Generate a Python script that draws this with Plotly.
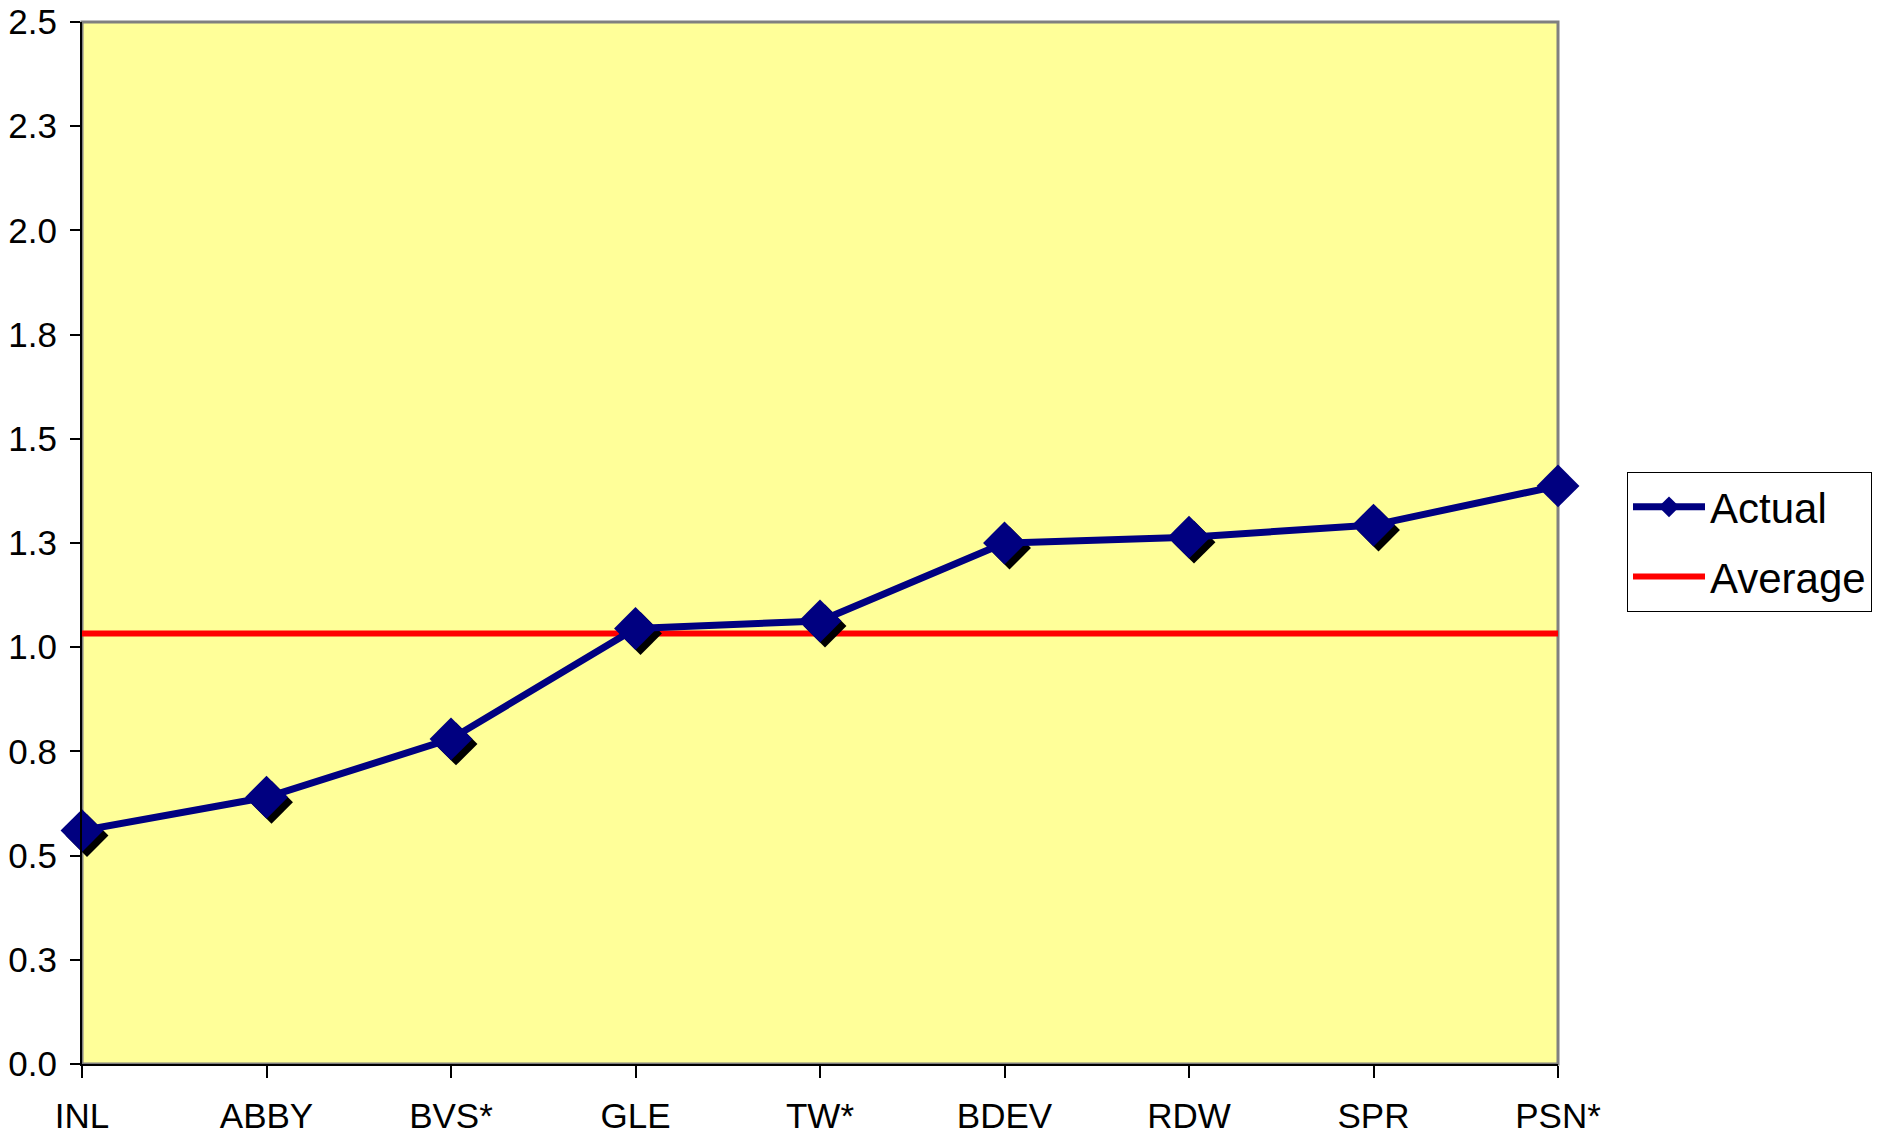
import plotly.graph_objects as go

categories = ["INL", "ABBY", "BVS*", "GLE", "TW*", "BDEV", "RDW", "SPR", "PSN*"]
actual = [0.56, 0.64, 0.78, 1.045, 1.063, 1.25, 1.264, 1.293, 1.387]
average = [1.033] * len(categories)
ytick_vals = [0.0, 0.25, 0.5, 0.75, 1.0, 1.25, 1.5, 1.75, 2.0, 2.25, 2.5]
ytick_text = ["0.0", "0.3", "0.5", "0.8", "1.0", "1.3", "1.5", "1.8", "2.0", "2.3", "2.5"]

W, H = 1883, 1138
PAGE = 8  # body margin of the page
plot_w, plot_h = 1476, 1042
ML, MT = 82 - PAGE, 22 - PAGE
MR = W - ML - plot_w
MB = H - MT - plot_h
xr = [0, len(categories) - 1]
yr = [0, 2.5]

xs = list(range(len(categories)))
# shadow offset of ~5 px expressed in data units
dx = 5 * (xr[1] - xr[0]) / plot_w
dy = 5 * (yr[1] - yr[0]) / plot_h

FONT = "Liberation Sans Narrow, Arial Narrow, Liberation Sans, Arial, sans-serif"
NAVY = "#000080"

fig = go.Figure()
fig.add_trace(go.Scatter(
    x=xs, y=average, name="Average", mode="lines", legendgroup="avg", legendrank=2,
    line=dict(color="#FF0000", width=6),
))
fig.add_trace(go.Scatter(
    x=[v + dx for v in xs], y=[v - dy for v in actual], mode="markers",
    marker=dict(symbol="diamond", size=33, color="black", line=dict(width=0)),
    showlegend=False, hoverinfo="skip", cliponaxis=False,
))
fig.add_trace(go.Scatter(
    x=xs, y=actual, name="Actual", mode="lines+markers", legendgroup="act", legendrank=1,
    line=dict(color=NAVY, width=7),
    marker=dict(symbol="diamond", size=33, color=NAVY, line=dict(width=0)),
    cliponaxis=False,
))

fig.update_layout(
    width=W, height=H,
    margin=dict(l=ML, r=MR, t=MT, b=MB, autoexpand=False),
    paper_bgcolor="white",
    plot_bgcolor="rgba(0,0,0,0)",
    font=dict(family=FONT, size=35, color="black"),
    showlegend=True,
    legend=dict(
        x=(1627 - 82) / plot_w, y=(1065 - 473) / plot_h, xanchor="left", yanchor="top",
        bordercolor="#000000", borderwidth=1, bgcolor="white",
        font=dict(family=FONT, size=42, color="black"),
        traceorder="grouped",
        itemsizing="trace",
        itemwidth=72,
        tracegroupgap=12,
    ),
    xaxis=dict(
        range=xr, tickmode="array", tickvals=xs, ticktext=categories,
        showgrid=False, zeroline=False, showline=True, linecolor="black", linewidth=2,
        ticks="outside", ticklen=12, tickwidth=1.5, tickcolor="black",
        tickfont=dict(family=FONT, size=35), automargin=False,
        ticklabelstandoff=8, ticklabeloverflow="allow",
    ),
    xaxis2=dict(
        range=xr, overlaying="x", anchor="y", side="bottom",
        tickmode="array", tickvals=xs, showticklabels=False,
        showgrid=False, zeroline=False, showline=False,
        ticks="inside", ticklen=12, tickwidth=1.5, tickcolor="black",
    ),
    yaxis=dict(
        range=yr, tickmode="array", tickvals=ytick_vals, ticktext=ytick_text,
        showgrid=False, zeroline=False, showline=True, linecolor="black", linewidth=2,
        ticks="outside", ticklen=10, tickwidth=1.5, tickcolor="black",
        tickfont=dict(family=FONT, size=35), automargin=False,
        ticklabelstandoff=6, ticklabeloverflow="allow",
    ),
    yaxis2=dict(
        range=yr, overlaying="y", anchor="x", side="left",
        tickmode="array", tickvals=ytick_vals, showticklabels=False,
        showgrid=False, zeroline=False, showline=False,
        ticks="inside", ticklen=10, tickwidth=1.5, tickcolor="black",
    ),
    shapes=[dict(
        type="rect", xref="paper", yref="paper", x0=0, x1=1, y0=0, y1=1,
        fillcolor="#FFFF99", line=dict(color="#808080", width=3), layer="below",
    )],
)

fig.write_html("out.html")
